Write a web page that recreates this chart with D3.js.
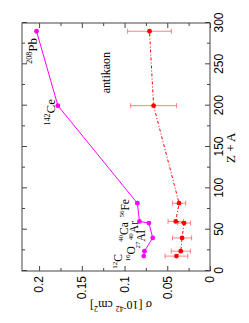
<!DOCTYPE html>
<html>
<head>
<meta charset="utf-8">
<script src="https://cdn.jsdelivr.net/npm/d3@7"></script>
<style>
  body { margin: 0; background: #fff; }
  svg { display: block; font-family: "Liberation Serif", "Times New Roman", serif; }
</style>
</head>
<body>
<svg id="chart" width="249" height="323"></svg>
<script>
// nuclei, Z + A, cross sections (10^-42 cm^2)
const nuclei = ['12C', '16O', '27Al', '40Ar', '40Ca', '56Fe', '142Ce', '208Pb'];
const zPlusA = [18, 24, 40, 58, 60, 82, 200, 290];
const sigmaKaon = [0.0775, 0.0767, 0.067, 0.0715, 0.0825, 0.085, 0.178, 0.203];
const sigmaAnti = [0.0393, 0.0342, 0.0327, 0.0303, 0.0401, 0.0362, 0.066, 0.0708];
const sigmaAntiErr = [0.0133, 0.0112, 0.0112, 0.0075, 0.009, 0.0078, 0.0269, 0.0256];

const xTicks = [0, 50, 100, 150, 200, 250, 300];
const xMinor = [25, 75, 125, 175, 225, 275];
const yTicks = [0, 0.05, 0.1, 0.15, 0.2];
const yMinor = [0.025, 0.075, 0.125, 0.175];

// label text anchors in data coords (text end)
const labels = [
    { mass: '208', el: 'Pb', at: [282, 0.2025], size: 13 },
    { mass: '142', el: 'Ce', at: [208, 0.181], size: 13 },
    { mass: '56', el: 'Fe', at: [87, 0.095], size: 11.5 },
    { mass: '40', el: 'Ca', at: [59, 0.096], size: 11.5 },
    { mass: '40', el: 'Ar', at: [60.5, 0.084], size: 11.5 },
    { mass: '27', el: 'Al', at: [49.5, 0.076], size: 11.5 },
    { mass: '16', el: 'O', at: [30, 0.088], size: 11.5 },
    { mass: '12', el: 'C', at: [20.5, 0.103], size: 11.5 }
];

const W = 248, H = 188;
const svg = d3.select('#chart');
// whole plot is turned a quarter turn counter-clockwise
const g = svg.append('g').attr('transform', 'translate(22,271) rotate(-90)');

const x = d3.scaleLinear().domain([0, 300]).range([0, W]);
const y = d3.scaleLinear().domain([0, 0.22]).range([H, 0]);

const axisColor = '#444';

function ticks(axis, pos, values, size) {
    const a = g.append('g').attr('transform', pos)
        .call(axis.tickValues(values).tickSize(-size).tickSizeOuter(0).tickFormat(''));
    a.select('.domain').remove();
    a.selectAll('line').attr('stroke', axisColor);
    return a;
}

// mirrored ticks on all four sides
ticks(d3.axisBottom(x), `translate(0,${H})`, xMinor, 3);
ticks(d3.axisTop(x), 'translate(0,0)', xTicks, 5);
ticks(d3.axisTop(x), 'translate(0,0)', xMinor, 3);
ticks(d3.axisLeft(y), 'translate(0,0)', yMinor, 3);
ticks(d3.axisRight(y), `translate(${W},0)`, yTicks, 5);
ticks(d3.axisRight(y), `translate(${W},0)`, yMinor, 3);

const xAx = g.append('g').attr('transform', `translate(0,${H})`)
    .call(d3.axisBottom(x).tickValues(xTicks).tickSize(-5).tickSizeOuter(0));
xAx.select('.domain').remove();
xAx.selectAll('line').attr('stroke', axisColor);
xAx.selectAll('text').attr('y', 13).attr('dy', null)
    .style('font-size', '12px').style('font-family', 'inherit').attr('fill', '#000');

const yAx = g.append('g')
    .call(d3.axisLeft(y).tickValues(yTicks).tickSize(-5).tickSizeOuter(0).tickFormat(d => String(d)));
yAx.select('.domain').remove();
yAx.selectAll('line').attr('stroke', axisColor);
yAx.selectAll('text').attr('x', -5)
    .style('font-size', '12px').style('font-family', 'inherit').attr('fill', '#000');

g.append('rect').attr('width', W).attr('height', H)
    .attr('fill', 'none').attr('stroke', axisColor).attr('stroke-width', 1);

// axis titles
g.append('text').attr('x', x(149)).attr('y', H + 25)
    .attr('text-anchor', 'middle').style('font-size', '13px').text('Z + A');

const yt = g.append('text').attr('transform', 'translate(-30,99) rotate(-90)')
    .attr('text-anchor', 'middle').style('font-size', '12px');
yt.append('tspan').text('σ [10');
yt.append('tspan').attr('dy', -5).style('font-size', '8px').text('-42');
yt.append('tspan').attr('dy', 5).text(' cm');
yt.append('tspan').attr('dy', -5).style('font-size', '8px').text('2');
yt.append('tspan').attr('dy', 5).text(']');

// kaon curve
const pts = zPlusA.map((z, i) => ({ z, s: sigmaKaon[i] }));
g.append('path').datum(pts)
    .attr('d', d3.line().x(d => x(d.z)).y(d => y(d.s)))
    .attr('fill', 'none').attr('stroke', '#ff00ff').attr('stroke-width', 1);
g.selectAll('.kp').data(pts).enter().append('circle')
    .attr('cx', d => x(d.z)).attr('cy', d => y(d.s)).attr('r', 2.4).attr('fill', '#ff00ff');

// antikaon curve with errors
const apts = zPlusA.map((z, i) => ({ z, s: sigmaAnti[i], e: sigmaAntiErr[i] }));
const eb = g.selectAll('.eb').data(apts).enter().append('g')
    .attr('stroke', '#ff5050').attr('stroke-opacity', 0.7).attr('stroke-width', 1);
eb.append('line').attr('x1', d => x(d.z)).attr('x2', d => x(d.z))
    .attr('y1', d => y(d.s - d.e)).attr('y2', d => y(d.s + d.e));
eb.append('line').attr('x1', d => x(d.z) - 2.5).attr('x2', d => x(d.z) + 2.5)
    .attr('y1', d => y(d.s - d.e)).attr('y2', d => y(d.s - d.e));
eb.append('line').attr('x1', d => x(d.z) - 2.5).attr('x2', d => x(d.z) + 2.5)
    .attr('y1', d => y(d.s + d.e)).attr('y2', d => y(d.s + d.e));

g.append('path').datum(apts)
    .attr('d', d3.line().x(d => x(d.z)).y(d => y(d.s)))
    .attr('fill', 'none').attr('stroke', '#ff0000').attr('stroke-width', 1)
    .attr('stroke-dasharray', '3,2,1,2');
g.selectAll('.ap').data(apts).enter().append('circle')
    .attr('cx', d => x(d.z)).attr('cy', d => y(d.s)).attr('r', 2.4).attr('fill', '#ff0000');

// nucleus labels
labels.forEach(l => {
    const t = g.append('text').attr('x', x(l.at[0])).attr('y', y(l.at[1]))
        .attr('text-anchor', 'end').style('font-size', l.size + 'px');
    const sh = Math.round(l.size * 0.4);
    t.append('tspan').attr('dy', -sh).style('font-size', Math.round(l.size * 0.65) + 'px').text(l.mass);
    t.append('tspan').attr('dy', sh).text(l.el);
});

g.append('text').attr('x', x(240)).attr('y', y(0.117))
    .attr('text-anchor', 'middle').style('font-size', '12px').text('antikaon');
</script>
</body>
</html>
